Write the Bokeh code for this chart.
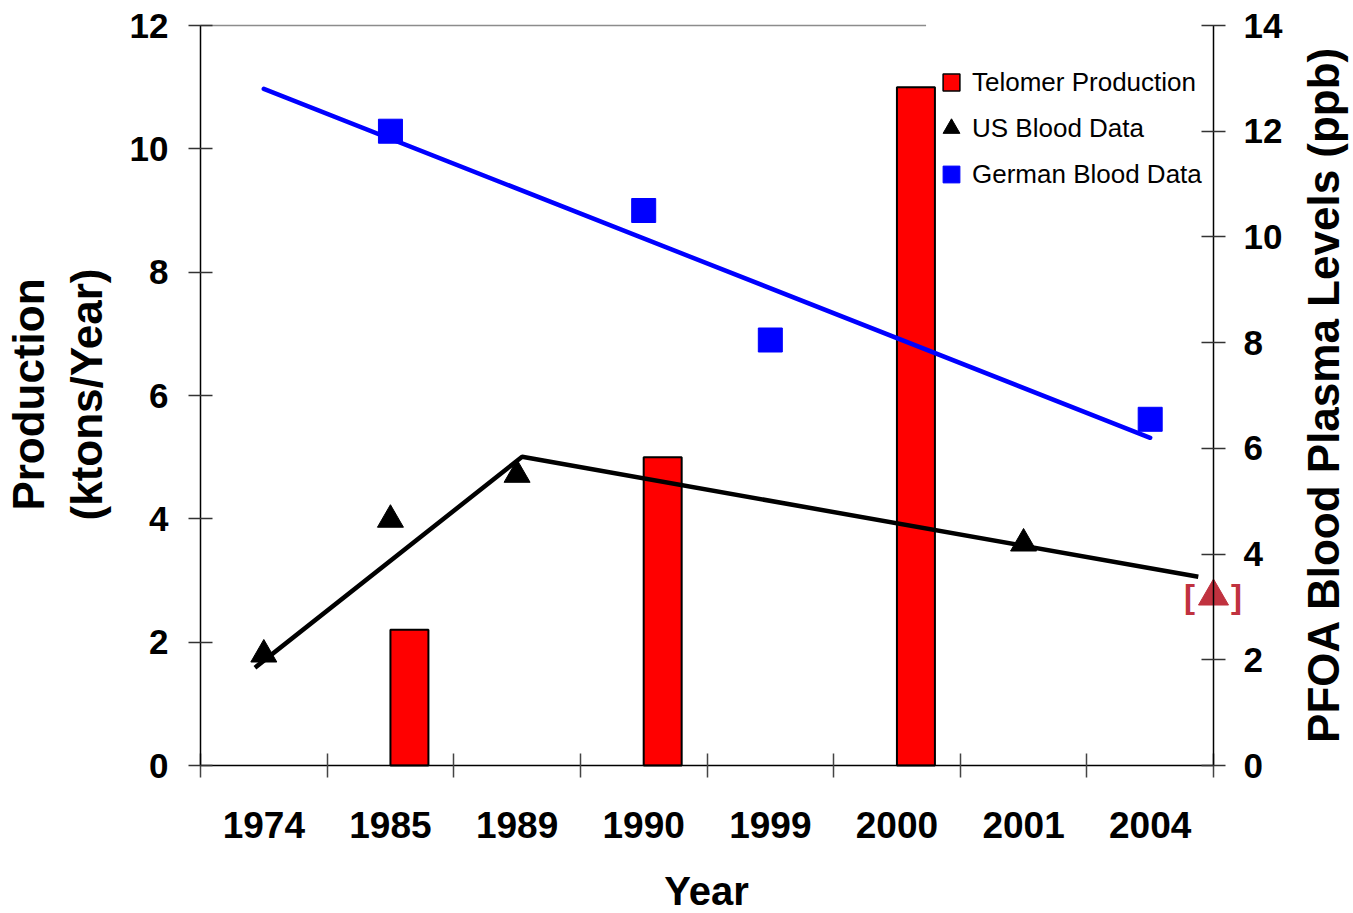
import math
from bokeh.plotting import figure
from bokeh.models import (Range1d, LinearAxis, FixedTicker,
                          Legend, LegendItem, ColumnDataSource, Label)
from bokeh.embed import file_html
from bokeh.resources import INLINE

# ---------------- data ----------------
years = ["1974", "1985", "1989", "1990", "1999", "2000", "2001", "2004"]

prod_years = ["1985", "1990", "2000"]
prod_values = [2.2, 5.0, 11.0]                 # ktons / year (left axis)

us_years = ["1974", "1985", "1989", "2001"]
us_values = [2.1, 4.65, 5.5, 4.2]              # ppb (right axis)

de_years = ["1985", "1990", "1999", "2004"]
de_values = [12.0, 10.5, 8.05, 6.55]           # ppb (right axis)

# hand-drawn trend lines (position in category slots, value in ppb)
us_trend_pos = [0.43, 2.54, 7.88]
us_trend_values = [1.85, 5.84, 3.57]
de_trend_years = ["1974", "2004"]
de_trend_values = [12.8, 6.2]

# bracketed estimate at the right edge
extra_pos = [8.0]
extra_value = [3.2]

left_max, right_max = 12, 14
left_ticks = [0, 2, 4, 6, 8, 10, 12]
right_ticks = [0, 2, 4, 6, 8, 10, 12, 14]

# ---------------- layout (pixels) ----------------
W, H = 1353, 913
PL, PR, PT, PB = 200, 1213, 25, 765     # plotting area edges inside the canvas
FONT = "Liberation Sans"
EXTRA_RED = "#C0323F"

def slot(y):
    return years.index(y) + 0.5

n = len(years)
ux = (PR - PL) / n
uy = (PB - PT) / left_max
ur = (PB - PT) / right_max

p = figure(width=W, height=H, output_backend="svg", toolbar_location=None,
           x_range=Range1d(-PL / ux, n + (W - PR) / ux),
           y_range=Range1d(-(H - PB) / uy, left_max + PT / uy),
           min_border=0, min_border_left=0, min_border_right=0,
           min_border_top=0, min_border_bottom=0)
p.outline_line_color = None
p.grid.grid_line_color = None
p.background_fill_color = "white"
p.border_fill_color = "white"
p.extra_y_ranges = {"right": Range1d(-(H - PB) / ur, right_max + PT / ur)}

# ---- x axis ----
xa = p.xaxis[0]
xa.fixed_location = 0
xa.bounds = (0, n)
xa.ticker = FixedTicker(ticks=[i + 0.5 for i in range(n)],
                        minor_ticks=list(range(n + 1)))
xa.major_label_overrides = {i + 0.5: y for i, y in enumerate(years)}
xa.major_tick_line_color = None
xa.major_tick_out = 12
xa.major_tick_in = 0
xa.minor_tick_in = 12
xa.minor_tick_out = 12
xa.minor_tick_line_color = "#444444"
xa.minor_tick_line_width = 1.5
xa.axis_line_color = "black"
xa.axis_line_width = 1.5
xa.major_label_text_font = FONT
xa.major_label_text_font_style = "bold"
xa.major_label_text_font_size = "37px"
xa.major_label_text_color = "black"
xa.major_label_standoff = 34

# ---- left axis ----
ya = p.yaxis[0]
ya.fixed_location = 0
ya.bounds = (0, left_max)
ya.ticker = FixedTicker(ticks=left_ticks)
ya.major_tick_in = 12
ya.major_tick_out = 12
ya.major_tick_line_color = "#333333"
ya.major_tick_line_width = 1.5
ya.minor_tick_line_color = None
ya.axis_line_color = "black"
ya.axis_line_width = 1.5
ya.major_label_text_font = FONT
ya.major_label_text_font_style = "bold"
ya.major_label_text_font_size = "35px"
ya.major_label_text_color = "black"
ya.major_label_standoff = 20

# ---- right axis ----
ra = LinearAxis(y_range_name="right", ticker=FixedTicker(ticks=right_ticks),
                fixed_location=n, bounds=(0, right_max))
ra.major_tick_in = 12
ra.major_tick_out = 12
ra.major_tick_line_color = "#333333"
ra.major_tick_line_width = 1.5
ra.minor_tick_line_color = None
ra.axis_line_color = "black"
ra.axis_line_width = 1.5
ra.major_label_text_font = FONT
ra.major_label_text_font_style = "bold"
ra.major_label_text_font_size = "35px"
ra.major_label_text_color = "black"
ra.major_label_standoff = 18
p.add_layout(ra, "right")

# ---- top frame line (ends where the legend begins) ----
p.segment(x0=[0], y0=[left_max], x1=[5.73], y1=[left_max],
          line_color="#8c8c8c", line_width=1.5)

# legend proxy for the bars: same style as the bars, hidden underneath them
proxy_src = ColumnDataSource(dict(x=[slot(y) + 0.15 for y in prod_years],
                                  y=[v / 2 for v in prod_values]))
prod_proxy = p.scatter(x="x", y="y", source=proxy_src, marker="square", size=14,
                       fill_color="#FF0000", line_color="black", line_width=1.5)

# ---- bars ----
bar_src = ColumnDataSource(dict(x=[slot(y) + 0.15 for y in prod_years], top=prod_values))
p.vbar(x="x", top="top", bottom=0, width=0.3, source=bar_src,
       fill_color="#FF0000", line_color="black", line_width=2)

# ---- trend lines ----
p.line(x=us_trend_pos, y=us_trend_values, y_range_name="right",
       line_color="black", line_width=4.5, line_cap="butt")
p.line(x=[slot(y) for y in de_trend_years], y=de_trend_values, y_range_name="right",
       line_color="#0000FF", line_width=4.5, line_cap="round")

# ---- markers ----
us_r = p.scatter(x=[slot(y) for y in us_years], y=us_values, y_range_name="right",
                 marker="triangle", size=26, fill_color="black", line_color="black")
de_r = p.scatter(x=[slot(y) for y in de_years], y=de_values, y_range_name="right",
                 marker="square", size=24, fill_color="#0000FF", line_color="#0000FF")

# ---- bracketed estimate, centred on the right axis line ----
p.scatter(x=extra_pos, y=extra_value, y_range_name="right", marker="triangle",
          size=30, fill_color=EXTRA_RED, line_color=EXTRA_RED)
for txt, off in (("[", -24), ("]", 23)):
    p.add_layout(Label(x=extra_pos[0], y=extra_value[0], y_range_name="right", text=txt,
                       x_offset=off, text_font=FONT, text_font_style="bold",
                       text_font_size="33px", text_color=EXTRA_RED,
                       text_align="center", text_baseline="middle"))

legend = Legend(items=[LegendItem(label="Telomer Production", renderers=[prod_proxy]),
                       LegendItem(label="US Blood Data", renderers=[us_r]),
                       LegendItem(label="German Blood Data", renderers=[de_r])],
                location=(930, H - 195), glyph_width=42, glyph_height=42, spacing=4,
                padding=0, margin=0, label_standoff=0,
                label_text_font=FONT, label_text_font_size="26px",
                label_text_color="black",
                background_fill_alpha=0.0, border_line_color=None)
p.add_layout(legend)

# ---- axis titles ----
p.add_layout(Label(x=57, y=H - 394, x_units="screen", y_units="screen",
                   text="Production\n(ktons/Year)", angle=math.pi / 2,
                   text_font=FONT, text_font_style="bold", text_font_size="44px",
                   text_color="black", text_align="center", text_baseline="middle"))
p.add_layout(Label(x=1323, y=H - 394, x_units="screen", y_units="screen",
                   text="PFOA Blood Plasma Levels (ppb)", angle=math.pi / 2,
                   text_font=FONT, text_font_style="bold", text_font_size="44px",
                   text_color="black", text_align="center", text_baseline="middle"))
p.add_layout(Label(x=706, y=H - 890, x_units="screen", y_units="screen",
                   text="Year",
                   text_font=FONT, text_font_style="bold", text_font_size="40px",
                   text_color="black", text_align="center", text_baseline="middle"))

open("out.html", "w").write(file_html(p, INLINE))
